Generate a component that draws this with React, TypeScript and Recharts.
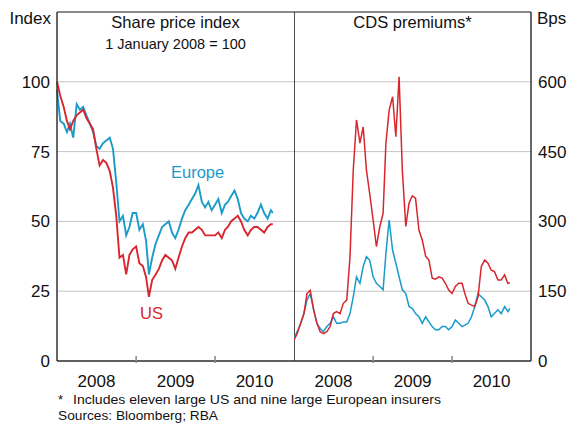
import React from "react";
import { LineChart, Line, XAxis, YAxis, CartesianGrid, ReferenceLine } from "recharts";

// half-monthly observations, Jan 2008 to Sep 2010
const dates = [
  "2008-01-01", "2008-01-16", "2008-02-01", "2008-02-16", "2008-03-01", "2008-03-16",
  "2008-04-01", "2008-04-16", "2008-05-01", "2008-05-16", "2008-06-01", "2008-06-16",
  "2008-07-01", "2008-07-16", "2008-08-01", "2008-08-16", "2008-09-01", "2008-09-16",
  "2008-10-01", "2008-10-16", "2008-11-01", "2008-11-16", "2008-12-01", "2008-12-16",
  "2009-01-01", "2009-01-16", "2009-02-01", "2009-02-16", "2009-03-01", "2009-03-16",
  "2009-04-01", "2009-04-16", "2009-05-01", "2009-05-16", "2009-06-01", "2009-06-16",
  "2009-07-01", "2009-07-16", "2009-08-01", "2009-08-16", "2009-09-01", "2009-09-16",
  "2009-10-01", "2009-10-16", "2009-11-01", "2009-11-16", "2009-12-01", "2009-12-16",
  "2010-01-01", "2010-01-16", "2010-02-01", "2010-02-16", "2010-03-01", "2010-03-16",
  "2010-04-01", "2010-04-16", "2010-05-01", "2010-05-16", "2010-06-01", "2010-06-16",
  "2010-07-01", "2010-07-16", "2010-08-01", "2010-08-16", "2010-09-01", "2010-09-16",
  "2010-09-25",
];

// share price index, 1 Jan 2008 = 100
const usShare = [
  100, 95, 91, 86, 83, 86, 88, 89, 90, 87, 85, 83,
  76, 70, 72, 71, 68, 62, 52, 37, 38, 31, 38, 40,
  41, 35, 34, 30, 23, 29, 31, 33, 36, 38, 37, 36,
  33, 37, 41, 44, 46, 46, 47, 48, 47, 45, 45, 45,
  45, 46, 44, 47, 48, 50, 51, 52, 50, 47, 45, 47,
  48, 48, 47, 46, 48, 49, 49,
];
const europeShare = [
  97, 86, 85, 82, 85, 80, 92, 90, 91, 88, 85, 82,
  77, 76, 78, 79, 80, 76, 64, 50, 52, 45, 48, 53,
  53, 47, 49, 43, 31, 37, 42, 45, 48, 49, 50, 46,
  44, 47, 51, 54, 56, 58, 60, 63, 57, 55, 57, 54,
  56, 58, 53, 56, 57, 59, 61, 58, 53, 51, 50, 52,
  51, 53, 56, 53, 51, 54, 53,
];

// CDS premiums, bps
const usCds = [
  45, 59, 81, 102, 145, 152, 110, 81, 63, 59, 63, 74,
  102, 106, 102, 124, 131, 224, 410, 518, 468, 503, 410, 360,
  303, 246, 289, 317, 468, 539, 568, 482, 611, 410, 289, 339,
  355, 350, 281, 260, 225, 217, 178, 176, 181, 178, 167, 153,
  145, 160, 167, 167, 145, 124, 120, 117, 138, 203, 217, 210,
  195, 192, 174, 174, 185, 167, 168,
];
const europeCds = [
  49, 63, 81, 102, 131, 145, 110, 81, 70, 63, 74, 81,
  95, 81, 81, 84, 84, 102, 138, 181, 167, 203, 224, 217,
  181, 167, 160, 153, 231, 303, 238, 210, 181, 153, 145, 117,
  113, 102, 95, 81, 95, 84, 74, 67, 67, 74, 74, 67,
  74, 88, 81, 74, 77, 81, 95, 117, 145, 138, 131, 117,
  95, 102, 110, 102, 117, 106, 113,
];

const indexTicks = [0, 25, 50, 75, 100];
const bpsTicks = [0, 150, 300, 450, 600];
const years = [2008, 2009, 2010];

const RED = "#d8262e";
const BLUE = "#1a9bc9";
const FRAME = "#333";
const FONT = "'Liberation Sans', Arial, sans-serif";

const ts = (d: string) => new Date(d + "T00:00:00Z").getTime();
const yearStart = (y: number) => Date.UTC(y, 0, 1);
const xDomain = [yearStart(2008), yearStart(2011)];
const xTicks = years.map(yearStart);

const shareData = dates.map((d, i) => ({ t: ts(d), us: usShare[i], europe: europeShare[i] }));
const cdsData = dates.map((d, i) => ({ t: ts(d), us: usCds[i], europe: europeCds[i] }));

// year label sits mid-year, tick mark at the year boundary pointing up into the plot
function YearTick(props: any) {
  const { x, y, payload } = props;
  const yr = new Date(payload.value).getUTCFullYear();
  return (
    <g>
      {yr !== 2008 && <line x1={x} x2={x} y1={y - 7} y2={y} stroke="#888" strokeWidth={1.5} />}
      <text x={x + 39.5} y={y + 24} textAnchor="middle" fontSize={17} fill="#111" fontFamily={FONT}>
        {yr}
      </text>
    </g>
  );
}

const tickStyle = { fill: "#111", fontSize: 17, fontFamily: FONT };

export default function App() {
  return (
    <div style={{ position: "absolute", left: 0, top: 0, width: 567, height: 423, background: "#fff" }}>
      <div style={{ position: "absolute", left: 0, top: 0 }}>
        <LineChart width={300} height={423} data={shareData} margin={{ top: 12, right: 6, left: 7, bottom: 32 }}>
          <CartesianGrid horizontal vertical={false} stroke="#c4c4c4" />
          <XAxis
            dataKey="t"
            type="number"
            domain={xDomain}
            ticks={xTicks}
            interval={0}
            height={30}
            tickSize={0}
            tickLine={false}
            tick={<YearTick />}
            axisLine={{ stroke: FRAME, strokeWidth: 1.5 }}
          />
          <YAxis
            domain={[0, 125]}
            ticks={indexTicks}
            interval={0}
            width={50}
            tickSize={0}
            tickMargin={7}
            tickLine={false}
            tick={tickStyle}
            axisLine={{ stroke: FRAME, strokeWidth: 1.5 }}
          />
          <ReferenceLine y={125} stroke={FRAME} strokeWidth={1.2} />
          <Line dataKey="europe" stroke={BLUE} strokeWidth={1.9} dot={false} type="linear" isAnimationActive={false} />
          <Line dataKey="us" stroke={RED} strokeWidth={1.9} dot={false} type="linear" isAnimationActive={false} />
        </LineChart>
      </div>
      <div style={{ position: "absolute", left: 294, top: 0 }}>
        <LineChart width={273} height={423} data={cdsData} margin={{ top: 12, right: 0, left: 0, bottom: 32 }}>
          <CartesianGrid horizontal vertical={false} stroke="#c4c4c4" />
          <XAxis
            dataKey="t"
            type="number"
            domain={xDomain}
            ticks={xTicks}
            interval={0}
            height={30}
            tickSize={0}
            tickLine={false}
            tick={<YearTick />}
            axisLine={{ stroke: FRAME, strokeWidth: 1.5 }}
          />
          <YAxis
            orientation="right"
            domain={[0, 750]}
            ticks={bpsTicks}
            interval={0}
            width={36}
            tickSize={0}
            tickMargin={7}
            tickLine={false}
            tick={tickStyle}
            axisLine={{ stroke: FRAME, strokeWidth: 1.5 }}
          />
          <ReferenceLine y={750} stroke={FRAME} strokeWidth={1.2} />
          <ReferenceLine x={xDomain[0]} stroke="#222" strokeWidth={1.6} />
          <Line dataKey="europe" stroke={BLUE} strokeWidth={1.5} dot={false} type="linear" isAnimationActive={false} />
          <Line dataKey="us" stroke={RED} strokeWidth={1.5} dot={false} type="linear" isAnimationActive={false} />
        </LineChart>
      </div>
      <svg
        width={567}
        height={423}
        style={{ position: "absolute", left: 0, top: 0, pointerEvents: "none" }}
        fontFamily={FONT}
        fill="#111"
      >
        <text x={51} y={24} textAnchor="end" fontSize={17}>Index</text>
        <text x={537} y={24} fontSize={17}>Bps</text>
        <text x={175.5} y={28} textAnchor="middle" fontSize={16.5}>Share price index</text>
        <text x={175.5} y={49} textAnchor="middle" fontSize={14.5}>1 January 2008 = 100</text>
        <text x={412.5} y={28} textAnchor="middle" fontSize={16.5}>CDS premiums*</text>
        <text x={171} y={178} fontSize={16.5} fill={BLUE}>Europe</text>
        <text x={140} y={319} fontSize={16.5} fill={RED}>US</text>
        <text x={58} y={404} fontSize={13}>*</text>
        <text x={73} y={404} fontSize={13} textLength={368} lengthAdjust="spacingAndGlyphs">
          Includes eleven large US and nine large European insurers
        </text>
        <text x={58} y={420} fontSize={13} textLength={160} lengthAdjust="spacingAndGlyphs">
          Sources: Bloomberg; RBA
        </text>
      </svg>
    </div>
  );
}
